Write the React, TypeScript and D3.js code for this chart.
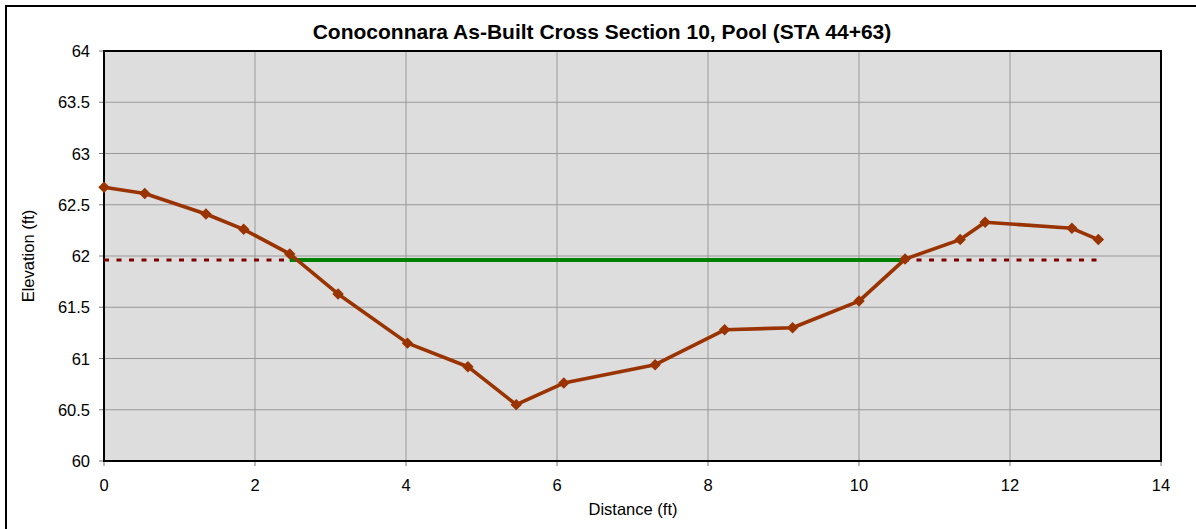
import React from 'react';
import * as d3 from 'd3';

// surveyed cross section (distance ft, elevation ft)
const stations = [0, 0.54, 1.35, 1.85, 2.46, 3.1, 4.02, 4.82, 5.46, 6.09, 7.3, 8.22, 9.12, 10.0, 10.61, 11.34, 11.67, 12.82, 13.17];
const elevations = [62.67, 62.61, 62.41, 62.26, 62.02, 61.63, 61.15, 60.92, 60.55, 60.76, 60.94, 61.28, 61.3, 61.56, 61.97, 62.16, 62.33, 62.27, 62.16];

// bankfull line (dotted) and water surface (green)
const bankfullX = [0, 13.17];
const bankfullY = [61.96, 61.96];
const waterX = [2.46, 10.61];
const waterY = [61.96, 61.96];

const xTicks = [0, 2, 4, 6, 8, 10, 12, 14];
const yTicks = [60, 60.5, 61, 61.5, 62, 62.5, 63, 63.5, 64];

const W = 1196, H = 529;
const margin = {top: 51, right: 35, bottom: 68, left: 104};
const font = 'Arial, "Liberation Sans", sans-serif';

export default function App() {
    const innerW = 1161 - margin.left;
    const innerH = 461 - margin.top;

    const x = d3.scaleLinear().domain([0, 14]).range([0, innerW]);
    const y = d3.scaleLinear().domain([60, 64]).range([innerH, 0]);

    const line = d3.line<[number, number]>()
        .x(d => x(d[0]))
        .y(d => y(d[1]));

    const section = stations.map((s, i) => [s, elevations[i]] as [number, number]);
    const bankfull = bankfullX.map((s, i) => [s, bankfullY[i]] as [number, number]);
    const water = waterX.map((s, i) => [s, waterY[i]] as [number, number]);

    // square turned 45 degrees, like Excel's diamond marker
    const marker = d3.symbol().type(d3.symbolSquare).size(66)();

    return (
        <div style={{position: 'fixed', left: 0, top: 0}}>
            <svg width={W} height={H} style={{display: 'block', fontFamily: font}}>
                <rect x={0} y={0} width={W} height={H} fill='white'/>
                <rect x={6} y={6} width={W + 10} height={H + 10} fill='none' stroke='black' strokeWidth={2}/>
                <text x={602} y={39} textAnchor='middle' fontSize={21} fontWeight='bold'>
                    Conoconnara As-Built Cross Section 10, Pool (STA 44+63)
                </text>
                <g transform={'translate(' + margin.left + ',' + margin.top + ')'}>
                    <rect width={innerW} height={innerH} fill='#dddddd'/>
                    {xTicks.map(t => (
                        <g key={'x' + t}>
                            <line x1={x(t)} x2={x(t)} y1={0} y2={innerH} stroke='#999' strokeWidth={1}/>
                            <line x1={x(t)} x2={x(t)} y1={innerH} y2={innerH + 5} stroke='#777' strokeWidth={1}/>
                            <text x={x(t)} y={innerH + 30} textAnchor='middle' fontSize={16.5}>{t}</text>
                        </g>
                    ))}
                    {yTicks.map(t => (
                        <g key={'y' + t}>
                            <line x1={0} x2={innerW} y1={y(t)} y2={y(t)} stroke='#999' strokeWidth={1}/>
                            <line x1={-5} x2={0} y1={y(t)} y2={y(t)} stroke='#777' strokeWidth={1}/>
                            <text x={-14} y={y(t) + 6} textAnchor='end' fontSize={16.5}>{t}</text>
                        </g>
                    ))}
                    <rect width={innerW} height={innerH} fill='none' stroke='black' strokeWidth={2}/>
                    <path d={line(bankfull) || ''} fill='none' stroke='#800000' strokeWidth={3} strokeDasharray='5,7.5'/>
                    <path d={line(water) || ''} fill='none' stroke='#008000' strokeWidth={4}/>
                    <path d={line(section) || ''} fill='none' stroke='#993300' strokeWidth={3.6} strokeLinejoin='round'/>
                    {section.map((d, i) => (
                        <path key={i} d={marker || ''}
                            transform={'translate(' + x(d[0]) + ',' + y(d[1]) + ') rotate(45)'}
                            fill='#993300'/>
                    ))}
                </g>
                <text x={633} y={515} textAnchor='middle' fontSize={16.5}>Distance (ft)</text>
                <text transform='translate(34,256) rotate(-90)' textAnchor='middle' fontSize={16.5}>Elevation (ft)</text>
            </svg>
        </div>
    );
}
